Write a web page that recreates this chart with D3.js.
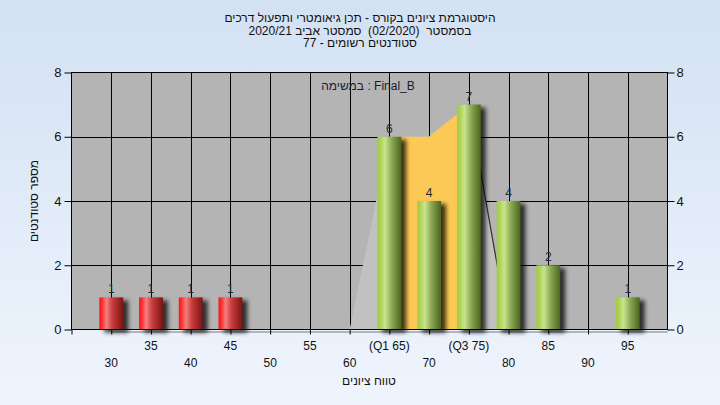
<!DOCTYPE html>
<html>
<head>
<meta charset="utf-8">
<script src="https://cdn.jsdelivr.net/npm/d3@7/dist/d3.min.js"></script>
<style>
  html, body { margin: 0; padding: 0; }
  body { width: 720px; height: 405px; overflow: hidden; }
  text { font-family: "Liberation Sans", Arial, sans-serif; }
</style>
</head>
<body>
<svg id="chart" width="720" height="405"></svg>
<script>
// ---- data ----
const categories = [30, 35, 40, 45, 50, 55, 60, 65, 70, 75, 80, 85, 90, 95];
const counts     = [1, 1, 1, 1, 0, 0, 0, 6, 4, 7, 4, 2, 0, 1];
const tickLabels = ["30", "35", "40", "45", "50", "55", "60", "(Q1 65)", "70", "(Q3 75)", "80", "85", "90", "95"];
const yTicks = [0, 2, 4, 6, 8];
const areaX = [60, 65, 70, 75, 80];
const areaY = [0, 6, 6, 7, 0];
const q1 = 65, q3 = 75;
const passFrom = 55;
const titleLines = [
  "היסטוגרמת ציונים בקורס - תכן גיאומטרי ותפעול דרכים",
  "בסמסטר  (02/2020)  סמסטר אביב 2020/21",
  "סטודנטים רשומים - 77"
];
const legendText = "במשימה : Final_B";
const xTitle = "טווח ציונים";
const yTitle = "מספר סטודנטים";

(function () {
const svg = d3.select("#chart");
const W = 720, H = 405;
const pL = 71.5, pR = 667.5, pT = 72.5, pB = 329.5;

const defs = svg.append("defs");
const bg = defs.append("linearGradient").attr("id", "bg").attr("x1", 0).attr("y1", 0).attr("x2", 0).attr("y2", 1);
bg.append("stop").attr("offset", 0).attr("stop-color", "#d3e1f3");
bg.append("stop").attr("offset", 1).attr("stop-color", "#eff5fd");

function cyl(id, stops) {
  const g = defs.append("linearGradient").attr("id", id).attr("x1", 0).attr("y1", 0).attr("x2", 1).attr("y2", 0);
  stops.forEach(s => g.append("stop").attr("offset", s[0]).attr("stop-color", s[1]));
}
cyl("red", [[0, "#ff1414"], [0.12, "#ff3030"], [0.3, "#f28080"], [0.55, "#c83c3c"], [1, "#7a1414"]]);
cyl("green", [[0, "#a2cc44"], [0.12, "#acd252"], [0.32, "#cae48e"], [0.6, "#8aa852"], [1, "#4a6620"]]);

const blur = defs.append("filter").attr("id", "shadow").attr("x", "-50%").attr("y", "-50%").attr("width", "200%").attr("height", "200%");
blur.append("feGaussianBlur").attr("stdDeviation", 2.2);

svg.append("rect").attr("width", W).attr("height", H).attr("fill", "url(#bg)");

const x = d3.scaleLinear().domain([25, 100]).range([pL, pR]);
const y = d3.scaleLinear().domain([0, 8]).range([pB, pT]);

svg.append("rect").attr("x", pL).attr("y", pT).attr("width", pR - pL).attr("height", pB - pT).attr("fill", "#b4b4b4");

const grid = svg.append("g").attr("stroke", "#000").attr("stroke-width", 1);
categories.forEach(c => grid.append("line").attr("x1", Math.round(x(c)) + 0.5).attr("x2", Math.round(x(c)) + 0.5).attr("y1", pT).attr("y2", pB));
yTicks.filter(t => t > 0 && t < 8).forEach(t => grid.append("line").attr("x1", pL).attr("x2", pR).attr("y1", Math.round(y(t)) + 0.5).attr("y2", Math.round(y(t)) + 0.5));

const pts = areaX.map((v, i) => [x(v), y(areaY[i])]);
const areaGen = d3.area().x(d => d[0]).y0(y(0)).y1(d => d[1]);
svg.append("path").attr("d", areaGen(pts)).attr("fill", "#c1c1c1");
defs.append("clipPath").attr("id", "iqr").append("rect").attr("x", x(q1)).attr("y", pT).attr("width", x(q3) - x(q1)).attr("height", pB - pT);
svg.append("path").attr("d", areaGen(pts)).attr("fill", "#fdc956").attr("clip-path", "url(#iqr)");
svg.append("line")
  .attr("x1", x(areaX[3])).attr("y1", y(areaY[3]))
  .attr("x2", x(areaX[4])).attr("y2", y(areaY[4]))
  .attr("stroke", "#303030").attr("stroke-width", 1.2);

svg.append("line").attr("x1", x(30)).attr("x2", pR).attr("y1", pB + 2.5).attr("y2", pB + 2.5).attr("stroke", "#7a7a7a").attr("stroke-width", 1);

const bw = x(31.5) - x(28.5);
const data = categories.map((c, i) => ({ c, v: counts[i] })).filter(d => d.v > 0);
svg.append("g").selectAll("rect").data(data).join("rect")
  .attr("x", d => x(d.c) - bw / 2 + 5).attr("y", d => y(d.v) + 3)
  .attr("width", bw).attr("height", d => y(0) - y(d.v))
  .attr("fill", "#000").attr("opacity", 0.75).attr("filter", "url(#shadow)");
svg.append("g").selectAll("rect").data(data).join("rect")
  .attr("x", d => x(d.c) - bw / 2).attr("y", d => y(d.v))
  .attr("width", bw).attr("height", d => y(0) - y(d.v))
  .attr("fill", d => d.c < passFrom ? "url(#red)" : "url(#green)");

svg.append("g").selectAll("text").data(data).join("text")
  .attr("x", d => x(d.c)).attr("y", d => y(d.v) - 4)
  .attr("text-anchor", "middle").attr("font-size", 12).attr("fill", "#1e2a3a")
  .text(d => d.v);

const frame = svg.append("g").attr("stroke", "#000").attr("stroke-width", 1).attr("fill", "none");
frame.append("rect").attr("x", pL).attr("y", pT).attr("width", pR - pL).attr("height", pB - pT);

const yLeft = d3.axisLeft(y).tickValues(yTicks).tickSize(7).tickPadding(3);
const yRight = d3.axisRight(y).tickValues(yTicks).tickSize(7).tickPadding(2);
const gl = svg.append("g").attr("transform", `translate(${pL},0)`).call(yLeft);
const gr = svg.append("g").attr("transform", `translate(${pR},0)`).call(yRight);
[gl, gr].forEach(g => {
  g.select(".domain").remove();
  g.selectAll("line").attr("stroke", "#000");
  g.selectAll("text").attr("font-size", 13).attr("fill", "#111").attr("font-family", "Liberation Sans, Arial, sans-serif");
});

const xAxis = d3.axisBottom(x).tickValues([25].concat(categories)).tickSize(5).tickFormat("");
const gx = svg.append("g").attr("transform", `translate(0,${pB})`).call(xAxis);
gx.select(".domain").remove();
gx.selectAll("line").attr("stroke", "#000");

svg.append("g").selectAll("text").data(categories).join("text")
  .attr("x", d => x(d)).attr("y", (d, i) => i % 2 === 1 ? 350 : 367)
  .attr("text-anchor", "middle").attr("font-size", 12).attr("fill", "#111")
  .text((d, i) => tickLabels[i]);

svg.append("g").selectAll("text").data(titleLines).join("text")
  .attr("x", 360).attr("y", (d, i) => 22 + i * 12.5)
  .attr("text-anchor", "middle").attr("font-size", 12).attr("fill", "#111")
  .style("white-space", "pre")
  .text(d => d);

svg.append("text").attr("x", 368).attr("y", 90).attr("text-anchor", "middle")
  .attr("font-size", 12).attr("fill", "#1e1838").text(legendText);

svg.append("text").attr("x", 369).attr("y", 385).attr("text-anchor", "middle")
  .attr("font-size", 12).attr("fill", "#111").text(xTitle);

svg.append("text").attr("transform", "translate(38,201) rotate(-90)").attr("text-anchor", "middle")
  .attr("font-size", 12).attr("fill", "#111").text(yTitle);
})();
</script>
</body>
</html>
